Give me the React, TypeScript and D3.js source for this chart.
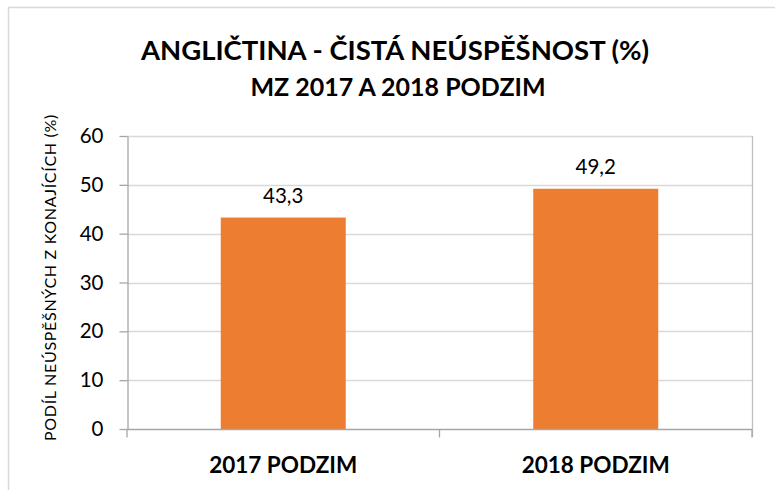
import React, { useEffect, useRef } from 'react';
import * as d3 from 'd3';

const categories = ['2017 PODZIM', '2018 PODZIM'];
const values = [43.3, 49.2];
const yTicks = [0, 10, 20, 30, 40, 50, 60];
const titleLines = ['ANGLIČTINA - ČISTÁ NEÚSPĚŠNOST (%)', 'MZ 2017 A 2018 PODZIM'];
const yLabel = 'PODÍL NEÚSPĚŠNÝCH Z KONAJÍCÍCH (%)';

const FONT = 'Lato, "Open Sans", sans-serif';

const App: React.FC = () => {
  const svgRef = useRef<SVGSVGElement>(null);

  useEffect(() => {
    if (!svgRef.current) return;
    const svg = d3.select(svgRef.current);
    svg.selectAll('*').remove();

    const width = 775;
    const height = 490;
    const plot = { left: 127, right: 752, top: 136, bottom: 429 };

    svg.attr('width', width).attr('height', height);

    // chart area frame
    svg.append('rect')
      .attr('x', 8.5).attr('y', 7.5)
      .attr('width', width).attr('height', height)
      .attr('fill', '#fff')
      .attr('stroke', '#d9d9d9')
      .attr('stroke-width', 1.5);

    // Title
    svg.append('text')
      .attr('x', 395).attr('y', 60)
      .attr('text-anchor', 'middle')
      .style('font-family', FONT).style('font-weight', 'bold').style('font-size', '27.5px')
      .attr('fill', '#000')
      .text(titleLines[0]);
    svg.append('text')
      .attr('x', 398).attr('y', 96)
      .attr('text-anchor', 'middle')
      .style('font-family', FONT).style('font-weight', 'bold').style('font-size', '25px')
      .attr('fill', '#000')
      .text(titleLines[1]);

    const x = d3.scaleBand<string>()
      .domain(categories)
      .range([plot.left, plot.right])
      .paddingInner(0.6)
      .paddingOuter(0.3);

    const y = d3.scaleLinear().domain([0, 60]).range([plot.bottom, plot.top]);

    // gridlines
    svg.append('g')
      .selectAll('line')
      .data(yTicks.filter(t => t > 0))
      .enter()
      .append('line')
      .attr('x1', plot.left).attr('x2', plot.right)
      .attr('y1', d => Math.round(y(d)) + 0.5).attr('y2', d => Math.round(y(d)) + 0.5)
      .attr('stroke', '#d9d9d9').attr('stroke-width', 1.3);

    // right border of plot
    svg.append('line')
      .attr('x1', plot.right + 0.5).attr('x2', plot.right + 0.5)
      .attr('y1', plot.top).attr('y2', plot.bottom + 8)
      .attr('stroke', '#bfbfbf').attr('stroke-width', 1.3);

    // Bars
    svg.append('g')
      .selectAll('rect')
      .data(values)
      .enter()
      .append('rect')
      .attr('x', (d, i) => x(categories[i]) as number)
      .attr('width', x.bandwidth())
      .attr('y', d => y(d))
      .attr('height', d => plot.bottom - y(d))
      .attr('fill', '#ED7D31');

    // Data labels
    svg.append('g')
      .selectAll('text')
      .data(values)
      .enter()
      .append('text')
      .attr('x', (d, i) => (x(categories[i]) as number) + x.bandwidth() / 2)
      .attr('y', d => y(d) - 15)
      .attr('text-anchor', 'middle')
      .style('font-family', FONT).style('font-size', '20.5px')
      .attr('fill', '#000')
      .text(d => d.toFixed(1).replace('.', ','));

    // Y axis
    const yAxis = svg.append('g')
      .attr('transform', `translate(${plot.left + 0.5},0)`)
      .call(d3.axisLeft(y).tickValues(yTicks).tickSize(8).tickPadding(16).tickSizeOuter(0));
    yAxis.select('.domain').attr('stroke', '#a6a6a6').attr('stroke-width', 1.3);
    yAxis.selectAll('.tick line').attr('stroke', '#a6a6a6').attr('stroke-width', 1.3);
    yAxis.selectAll('.tick text')
      .style('font-family', FONT).style('font-size', '20.5px').attr('fill', '#000');

    // X axis
    const xAxisG = svg.append('g').attr('transform', `translate(0,${plot.bottom + 0.5})`);
    xAxisG.append('line')
      .attr('x1', plot.left).attr('x2', plot.right)
      .attr('stroke', '#a6a6a6').attr('stroke-width', 1.3);
    const step = (plot.right - plot.left) / categories.length;
    xAxisG.selectAll('line.tick')
      .data(d3.range(categories.length + 1))
      .enter()
      .append('line')
      .attr('class', 'tick')
      .attr('x1', i => plot.left + i * step).attr('x2', i => plot.left + i * step)
      .attr('y1', 0).attr('y2', 8)
      .attr('stroke', '#a6a6a6').attr('stroke-width', 1.3);
    xAxisG.selectAll('text')
      .data(categories)
      .enter()
      .append('text')
      .attr('x', d => (x(d) as number) + x.bandwidth() / 2)
      .attr('y', 43)
      .attr('text-anchor', 'middle')
      .style('font-family', FONT).style('font-weight', 'bold').style('font-size', '22.5px')
      .attr('fill', '#000')
      .text(d => d);

    // Y label
    svg.append('text')
      .attr('transform', `translate(56, ${(plot.top + plot.bottom) / 2 - 5}) rotate(-90)`)
      .attr('text-anchor', 'middle')
      .style('font-family', FONT).style('font-size', '16px')
      .style('letter-spacing', '0.7px')
      .attr('fill', '#000')
      .text(yLabel);
  }, []);

  return (
    <div style={{ position: 'absolute', left: 0, top: 0 }}>
      <svg ref={svgRef} style={{ display: 'block' }}></svg>
    </div>
  );
};

export default App;
